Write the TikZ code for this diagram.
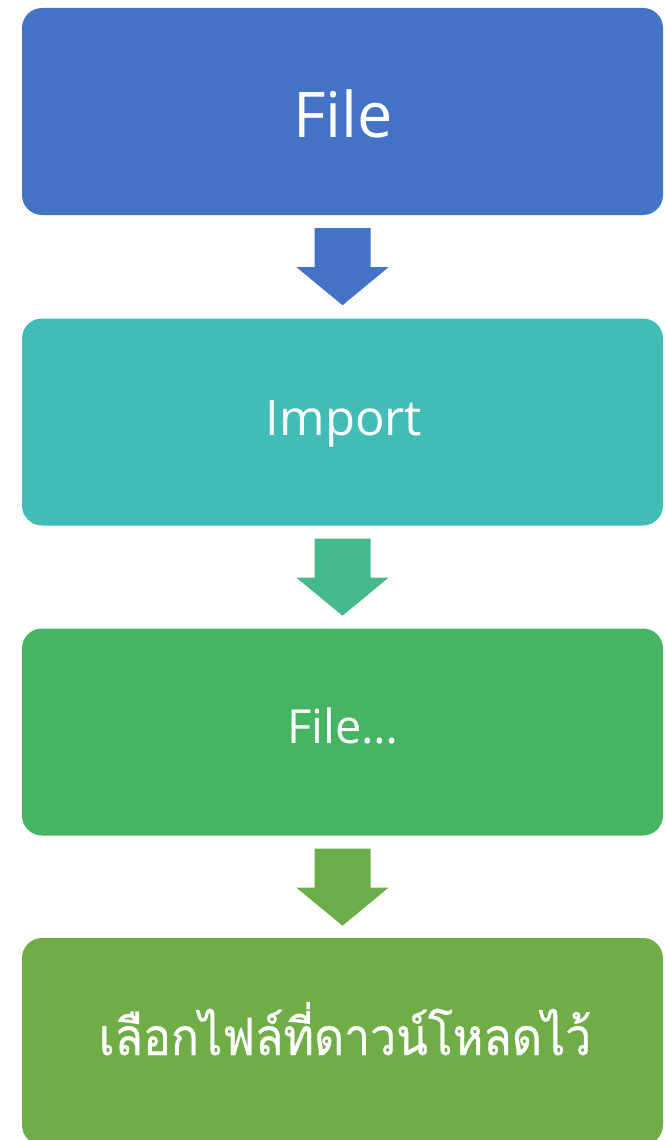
\documentclass[tikz,border=0pt]{standalone}
\usepackage{fontspec}
\setmainfont{Open Sans}
\newfontfamily\thaifont[Script=Thai,FakeStretch=0.9,FakeBold=0.6]{Loma}
\usetikzlibrary{calc}

\definecolor{cFile}{HTML}{4472C4}
\definecolor{cImport}{HTML}{42BCB7}
\definecolor{cDots}{HTML}{46B563}
\definecolor{cPick}{HTML}{70AD47}
\definecolor{aTwo}{HTML}{44B98C}
\definecolor{aThree}{HTML}{6BAE49}

\tikzset{
  stagebox/.style={rectangle, rounded corners=20pt, minimum width=641pt,
    minimum height=207pt, inner sep=0pt},
  stagelabel/.style={text=white, inner sep=0pt, anchor=base},
}

% block arrow hanging below a box
\newcommand{\stagearrow}[2]{%
  \fill[#2] ($(#1.south)+(-28,13)$) -- ($(#1.south)+(28,13)$)
    -- ($(#1.south)+(28,52)$) -- ($(#1.south)+(46,52)$)
    -- ($(#1.south)+(0,90)$) -- ($(#1.south)+(-46,52)$)
    -- ($(#1.south)+(-28,52)$) -- cycle;}

\begin{document}
\begin{tikzpicture}[x=1pt,y=-1pt]
  \useasboundingbox (0,0) rectangle (664,1140);

  \node[stagebox, fill=cFile]   (file)   at (342.5,111.5)  {};
  \node[stagebox, fill=cImport] (import) at (342.5,422)    {};
  \node[stagebox, fill=cDots]   (dots)   at (342.5,732)    {};
  \node[stagebox, fill=cPick]   (pick)   at (342.5,1041.5) {};

  \node[stagelabel] (fileT)   at (343,137)  {\fontsize{63}{70}\selectfont File};
  \node[stagelabel] (importT) at (344,435)  {\fontsize{49}{56}\selectfont Import};
  \node[stagelabel] (dotsT)   at (343,743.5) {\fontsize{47}{54}\selectfont File\ldots};
  \node[stagelabel] (pickT)   at (345,1055) {\thaifont\fontsize{51.5}{58}\selectfont เลือกไฟล์ที่ดาวน์โหลดไว้};

  \stagearrow{file}{cFile}
  \stagearrow{import}{aTwo}
  \stagearrow{dots}{aThree}
\end{tikzpicture}
\end{document}
